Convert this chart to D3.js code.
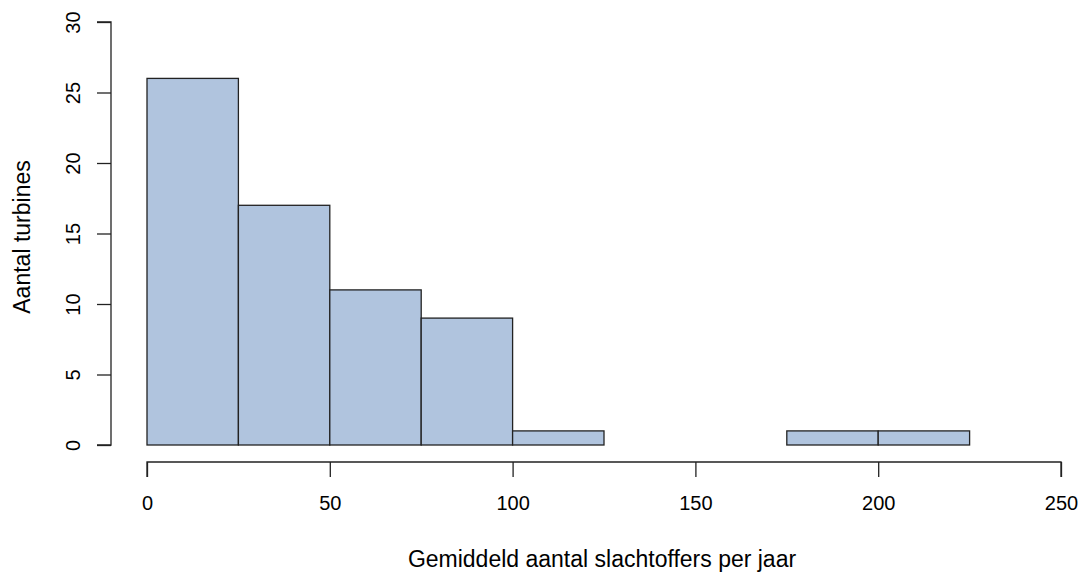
<!DOCTYPE html>
<html>
<head>
<meta charset="utf-8">
<script src="https://cdn.jsdelivr.net/npm/d3@7"></script>
<style>
  body { margin: 0; background: #fff; }
  text { font-family: "Liberation Sans", Arial, sans-serif; fill: #000; }
</style>
</head>
<body>
<div id="chart"></div>
<script>
// histogram bins (left edges) and counts
const binStarts = [0, 25, 50, 75, 100, 125, 150, 175, 200, 225];
const binWidth = 25;
const counts = [26, 17, 11, 9, 1, 0, 0, 1, 1, 0];
const xTicks = [0, 50, 100, 150, 200, 250];
const yTicks = [0, 5, 10, 15, 20, 25, 30];

const width = 1086, height = 574;
const BarColor = '#b0c4de';
const LineColor = '#222';

const x = d3.scaleLinear().domain([0, 250]).range([147, 1061]);
const y = d3.scaleLinear().domain([0, 30]).range([445, 22]);

const svg = d3.select("#chart").append("svg")
    .attr("width", width)
    .attr("height", height);

// bars (zero bins just leave a flat line, like R does)
svg.append("g")
    .selectAll("rect")
    .data(binStarts)
    .join("rect")
    .attr("x", (d) => x(d))
    .attr("y", (d, i) => y(counts[i]))
    .attr("width", x(binWidth) - x(0))
    .attr("height", (d, i) => y(0) - y(counts[i]))
    .attr("fill", BarColor)
    .attr("stroke", LineColor)
    .attr("stroke-width", 1.3);

// x axis
const xAxis = svg.append("g")
    .attr("transform", "translate(0,462)")
    .call(d3.axisBottom(x).tickValues(xTicks).tickSize(15).tickPadding(19).tickFormat(d3.format("d")));
xAxis.select(".domain").attr("d", `M${x(0)},15V0H${x(250)}V15`);

// y axis
const yAxis = svg.append("g")
    .attr("transform", "translate(111,0)")
    .call(d3.axisLeft(y).tickValues(yTicks).tickSize(14).tickPadding(0).tickFormat(d3.format("d")));
yAxis.select(".domain").attr("d", `M-14,${y(0)}H0V${y(30)}H-14`);
yAxis.selectAll(".tick text")
    .attr("x", 0).attr("dy", 0)
    .attr("text-anchor", "middle")
    .attr("transform", "translate(-31,0) rotate(-90)");

svg.selectAll(".domain, .tick line")
    .attr("stroke", LineColor)
    .attr("stroke-width", 1.3);
svg.selectAll(".tick text")
    .style("font-size", "20px")
    .attr("fill", "#000");

// axis titles
svg.append("text")
    .attr("x", 602).attr("y", 567)
    .attr("text-anchor", "middle")
    .style("font-size", "23px")
    .text("Gemiddeld aantal slachtoffers per jaar");

svg.append("text")
    .attr("transform", "translate(30,237) rotate(-90)")
    .attr("text-anchor", "middle")
    .style("font-size", "23px")
    .text("Aantal turbines");
</script>
</body>
</html>
